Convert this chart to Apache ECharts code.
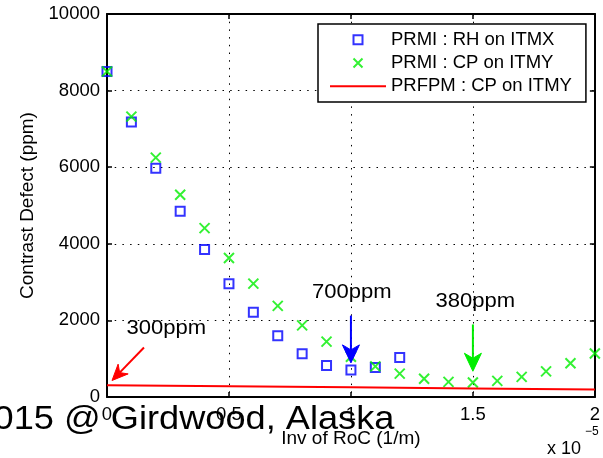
<!DOCTYPE html>
<html><head><meta charset="utf-8">
<script src="https://cdn.jsdelivr.net/npm/echarts@6/dist/echarts.min.js"></script>
<style>html,body{margin:0;padding:0;background:#fff}#c{width:603px;height:458px}</style>
</head><body><div id="c"></div>
<script>
// x values in units of 1e-5 (1/m)
const xBlue = [0, 0.1, 0.2, 0.3, 0.4, 0.5, 0.6, 0.7, 0.8, 0.9, 1.0, 1.1, 1.2];
const blueVals = [8500, 7180, 5970, 4850, 3850, 2960, 2210, 1600, 1130, 820, 705, 770, 1030];
const xGreen = [0, 0.1, 0.2, 0.3, 0.4, 0.5, 0.6, 0.7, 0.8, 0.9, 1.0, 1.1, 1.2, 1.3, 1.4, 1.5, 1.6, 1.7, 1.8, 1.9, 2.0];
const greenVals = [8500, 7320, 6250, 5280, 4410, 3630, 2960, 2380, 1870, 1445, 1050, 800, 610, 475, 395, 380, 420, 525, 670, 880, 1135];
const xRed = [0, 0.5, 1.0, 1.5, 2.0];
const redVals = [305, 280, 253, 225, 196];
const seriesNames = ['PRMI : RH on ITMX', 'PRMI : CP on ITMY', 'PRFPM : CP on ITMY'];
const xTicks = {min: 0, max: 2, interval: 0.5};
const yTicks = {min: 0, max: 10000, interval: 2000};
// annotations: data point targeted and label
const annotations = [
  {x: 0, y: 300, label: '300ppm'},
  {x: 1.0, y: 700, label: '700ppm'},
  {x: 1.5, y: 380, label: '380ppm'}
];
const zip = (a, b) => a.map((v, i) => [v, b[i]]);

const F = '"Liberation Sans", Arial, Helvetica, sans-serif';
const grid = {color: '#000', width: 1, type: [1.5, 6.2]};
const axLine = {onZero: false, lineStyle: {color: '#000', width: 2}};
const tick = {inside: true, length: 5, lineStyle: {color: '#000', width: 1.5}};
const SQUARE = 'path://M0,0L10,0L10,10L0,10Z';
const CROSS = 'path://M0,0L10,10M10,0L0,10';
const LINEICON = 'path://M0,0L56,0L56,2L0,2Z';

const chart = echarts.init(document.getElementById('c'), null, {renderer: 'canvas'});
chart.setOption({
  animation: false,
  backgroundColor: '#fff',
  grid: {left: 107, right: 4, top: 14, bottom: 61},
  legend: {
    orient: 'vertical', left: 318, top: 24,
    padding: [4, 14, 4, 12], itemGap: 0, itemWidth: 56, itemHeight: 9, itemTextGap: 7,
    symbolKeepAspect: true,
    borderColor: '#000', borderWidth: 1.5, backgroundColor: '#fff', borderRadius: 0,
    textStyle: {color: '#000', fontSize: 18.5, fontFamily: F, lineHeight: 23.3},
    data: [
      {name: seriesNames[0], icon: SQUARE},
      {name: seriesNames[1], icon: CROSS},
      {name: seriesNames[2], icon: LINEICON, itemStyle: {color: '#ff0000', borderWidth: 0}}
    ]
  },
  xAxis: [
    {type: 'value', position: 'bottom', min: xTicks.min, max: xTicks.max, interval: xTicks.interval,
     axisLine: axLine, axisTick: tick,
     axisLabel: {color: '#000', fontSize: 18.5, fontFamily: F, margin: 8, showMaxLabel: true, showMinLabel: true,
                 formatter: v => String(v)},
     splitLine: {show: true, lineStyle: grid},
     name: 'Inv of RoC (1/m)', nameLocation: 'middle', nameGap: 29,
     nameTextStyle: {color: '#000', fontSize: 19, fontFamily: F}},
    {type: 'value', position: 'top', min: xTicks.min, max: xTicks.max, interval: xTicks.interval,
     axisLine: axLine, axisTick: tick, axisLabel: {show: false}, splitLine: {show: false}}
  ],
  yAxis: [
    {type: 'value', position: 'left', min: yTicks.min, max: yTicks.max, interval: yTicks.interval,
     axisLine: axLine, axisTick: tick,
     axisLabel: {color: '#000', fontSize: 18.5, fontFamily: F, margin: 7, formatter: v => String(v)},
     splitLine: {show: true, lineStyle: grid},
     name: 'Contrast Defect (ppm)', nameLocation: 'middle', nameGap: 62,
     nameTextStyle: {color: '#000', fontSize: 19, fontFamily: F}},
    {type: 'value', position: 'right', min: yTicks.min, max: yTicks.max, interval: yTicks.interval,
     axisLine: axLine, axisTick: tick, axisLabel: {show: false}, splitLine: {show: false}}
  ],
  series: [
    {name: seriesNames[0], type: 'scatter', data: zip(xBlue, blueVals), symbol: SQUARE, symbolSize: 9,
     itemStyle: {color: 'none', borderColor: '#0000ff', borderWidth: 2}, z: 3},
    {name: seriesNames[1], type: 'scatter', data: zip(xGreen, greenVals), symbol: CROSS, symbolSize: 10,
     itemStyle: {color: 'none', borderColor: '#00ee00', borderWidth: 2}, z: 4},
    {name: seriesNames[2], type: 'line', data: zip(xRed, redVals), symbol: 'none', showSymbol: false, smooth: false,
     lineStyle: {color: '#ff0000', width: 2}, itemStyle: {color: '#ff0000'}, z: 5}
  ]
});

function arrow(tip, start, headLen, headW, notch, color) {
  const dx = tip[0] - start[0], dy = tip[1] - start[1];
  const L = Math.hypot(dx, dy); const ux = dx / L, uy = dy / L; const nx = -uy, ny = ux;
  const bx = tip[0] - ux * headLen, by = tip[1] - uy * headLen;
  const mx = tip[0] - ux * (headLen - notch), my = tip[1] - uy * (headLen - notch);
  return [
    {type: 'line', shape: {x1: start[0], y1: start[1], x2: mx, y2: my}, style: {stroke: color, lineWidth: 2}, z: 20},
    {type: 'polygon', shape: {points: [tip, [bx + nx * headW / 2, by + ny * headW / 2], [mx, my], [bx - nx * headW / 2, by - ny * headW / 2]]},
     style: {fill: color, stroke: color, lineWidth: 1}, z: 20}
  ];
}
const P = annotations.map(a => chart.convertToPixel({xAxisIndex: 0, yAxisIndex: 0}, [a.x, a.y]));
const arrowColors = ['#ff0000', '#0000ff', '#00ee00'];
const tipOff = [[5, -5], [0, -7.3], [0, -11.2]];
const startOff = [[37, -38], [0, -54.6], [0, -58]];
const labelPos = [[126.5, 328.2], [312, 292.2], [435.5, 301.2]];
let g = [];
annotations.forEach((a, i) => {
  g = g.concat(arrow([P[i][0] + tipOff[i][0], P[i][1] + tipOff[i][1]],
                     [P[i][0] + startOff[i][0], P[i][1] + startOff[i][1]],
                     i === 0 ? 16 : 18, i === 0 ? 14 : 17, 5, arrowColors[i]));
  g.push({type: 'text', x: labelPos[i][0], y: labelPos[i][1], scaleX: 1.13, z: 21,
          style: {text: a.label, fill: '#000', font: '19.5px ' + F, verticalAlign: 'middle', align: 'left'}});
});
// exponent label for x axis
g.push({type: 'text', x: 547, y: 448.7, z: 21, style: {text: 'x 10', fill: '#000', font: '18px ' + F, verticalAlign: 'middle', align: 'left'}});
g.push({type: 'text', x: 585, y: 431.5, z: 21, style: {text: '\u22125', fill: '#000', font: '12px ' + F, verticalAlign: 'middle', align: 'left'}});
// overlaid caption
g.push({type: 'text', x: -26.5, y: 419.8, scaleX: 1.08, z: 30,
        style: {text: '2015 @ Girdwood, Alaska', fill: '#000', font: '33.5px ' + F, verticalAlign: 'middle', align: 'left'}});
chart.setOption({graphic: g});
</script>
</body></html>
